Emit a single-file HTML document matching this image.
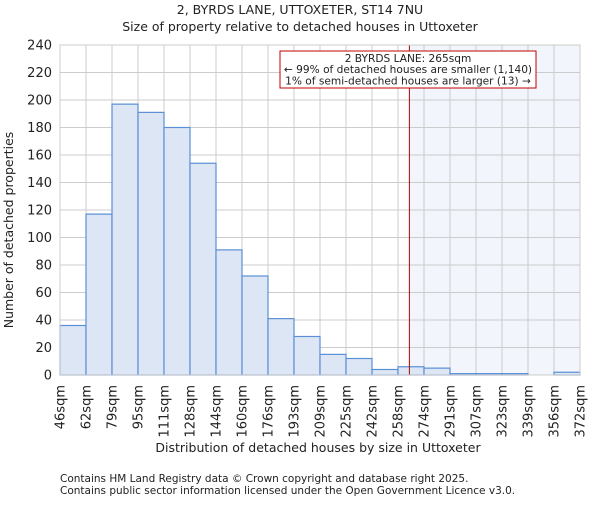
<!DOCTYPE html>
<html><head><meta charset="utf-8"><style>
body{margin:0;background:#fff;}
svg text{font-family:"DejaVu Sans","Liberation Sans",sans-serif;fill:#222;}
</style></head><body>
<svg id="chart" width="600" height="500" xmlns="http://www.w3.org/2000/svg">
<text x="300" y="14" text-anchor="middle" font-size="12.5">2, BYRDS LANE, UTTOXETER, ST14 7NU</text>
<text x="300" y="31" text-anchor="middle" font-size="12.5">Size of property relative to detached houses in Uttoxeter</text>
<rect id="shade" y="45" height="330" fill="#eef2fb" opacity="0.75"/>
<g id="grid"></g>
<g id="bars"></g>
<g id="yticks"></g>
<g id="xticks"></g>
<line id="marker" y1="45" y2="375" stroke="#b00000" stroke-width="1"/>
<rect x="60" y="45" width="520" height="330" fill="none" stroke="#ccc"/>
<g>
<rect x="280" y="51" width="256" height="37" fill="#fff" stroke="#c00000"/>
<text x="408" y="62" text-anchor="middle" font-size="10.6">2 BYRDS LANE: 265sqm</text>
<text x="408" y="73" text-anchor="middle" font-size="10.6">← 99% of detached houses are smaller (1,140)</text>
<text x="408" y="84.5" text-anchor="middle" font-size="10.6">1% of semi-detached houses are larger (13) →</text>
</g>
<text transform="translate(13,230) rotate(-90)" text-anchor="middle" font-size="12.5">Number of detached properties</text>
<text x="318" y="452" text-anchor="middle" font-size="12.5">Distribution of detached houses by size in Uttoxeter</text>
<text x="60" y="482" font-size="10.5" fill="#444">Contains HM Land Registry data © Crown copyright and database right 2025.</text>
<text x="60" y="494" font-size="10.5" fill="#444">Contains public sector information licensed under the Open Government Licence v3.0.</text>
</svg>
<script>
const edgeLabels=["46sqm","62sqm","79sqm","95sqm","111sqm","128sqm","144sqm","160sqm","176sqm","193sqm","209sqm","225sqm","242sqm","258sqm","274sqm","291sqm","307sqm","323sqm","339sqm","356sqm","372sqm"];
const counts=[36,117,197,191,180,154,91,72,41,28,15,12,4,6,5,1,1,1,0,2];
const yTicks=[0,20,40,60,80,100,120,140,160,180,200,220,240];
const markerSize=265;
const edgeSizes=[46,62,79,95,111,128,144,160,176,193,209,225,242,258,274,291,307,323,339,356,372];
const NS="http://www.w3.org/2000/svg";
const X0=60,X1=580,Y0=375,Y1=45,YMAX=240;
const bw=(X1-X0)/counts.length;
const xAt=i=>X0+i*bw;
const y=v=>Y0-(v/YMAX)*(Y0-Y1);
function sizeX(s){for(let i=0;i<edgeSizes.length-1;i++){if(s>=edgeSizes[i]&&s<=edgeSizes[i+1])return xAt(i)+(s-edgeSizes[i])/(edgeSizes[i+1]-edgeSizes[i])*bw;}return X1;}
const mk=(t,a)=>{const e=document.createElementNS(NS,t);for(const k in a)e.setAttribute(k,a[k]);return e;};
const grid=document.getElementById('grid'),bars=document.getElementById('bars'),yt=document.getElementById('yticks'),xt=document.getElementById('xticks');
yTicks.forEach(v=>{
 const l=mk('line',{x1:X0,x2:X1,y1:y(v),y2:y(v),stroke:'#ccc'});
 
 
 grid.appendChild(l);
 const t=mk('text',{x:X0-8,y:y(v)+4.5,'text-anchor':'end','font-size':'13'});
 t.textContent=v;
 
 
 yt.appendChild(t);
});
edgeLabels.forEach((lab,i)=>{
 const x=xAt(i);
 const l=mk('line',{x1:x,x2:x,y1:Y1,y2:Y0,stroke:'#ccc'});
 
 
 grid.appendChild(l);
 const t=mk('text',{transform:`translate(${x+4.5},${Y0+10}) rotate(-90)`,'text-anchor':'end','font-size':'13'});
 t.textContent=lab;
 
 
 xt.appendChild(t);
});
counts.forEach((c,i)=>{
 const r=mk('rect',{x:xAt(i),y:y(c),width:bw,height:Y0-y(c),fill:'#dce6f4',stroke:'#5b8fd6','stroke-width':'1.2'});
 
 
 bars.appendChild(r);
});
const mx=sizeX(markerSize);
const m=document.getElementById('marker');m.setAttribute('x1',mx);m.setAttribute('x2',mx);
const sh=document.getElementById('shade');sh.setAttribute('x',mx);sh.setAttribute('width',X1-mx);
</script>
</body></html>
